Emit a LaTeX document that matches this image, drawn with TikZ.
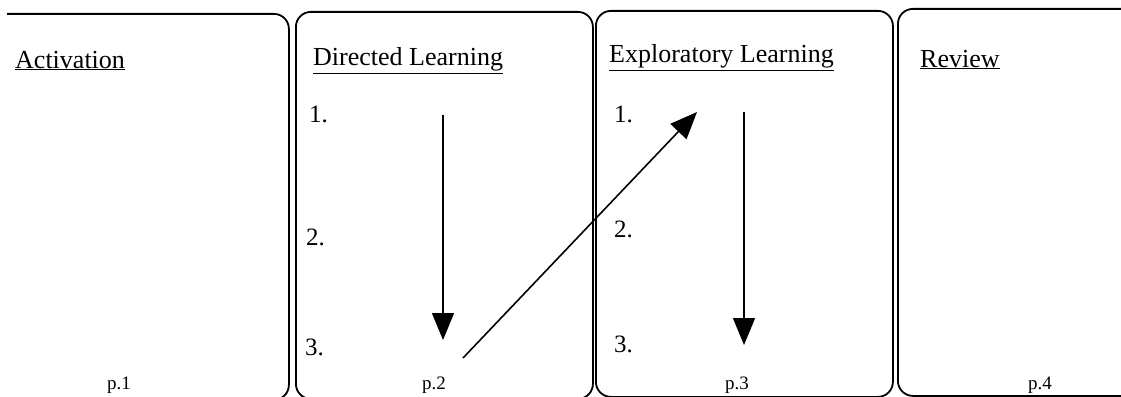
\documentclass[tikz,border=0pt]{standalone}
\usepackage{fontspec}
\setmainfont{Liberation Serif}
\usetikzlibrary{arrows.meta}
\begin{document}
\begin{tikzpicture}[x=1pt,y=-1pt,
  panel/.style={draw,line width=1.8pt,rounded corners=15pt,inner sep=0pt,anchor=north west},
  head/.style={anchor=base west,inner sep=0pt,font=\fontsize{26}{30}\selectfont},
  num/.style={anchor=base west,inner sep=0pt,font=\fontsize{25}{28}\selectfont},
  pg/.style={anchor=base,inner sep=0pt,font=\fontsize{19}{22}\selectfont},
  flow/.style={line width=1.6pt,-{Triangle[length=27pt,width=22pt]}}]
\useasboundingbox (0,0) rectangle (1121,396);
\clip (7,0) rectangle (1121,396);
\node[panel,minimum width=308pt,minimum height=386pt] (p1) at (-20,13) {};
\node[panel,minimum width=297pt,minimum height=387pt] (p2) at (295,11) {};
\node[panel,minimum width=297pt,minimum height=386pt] (p3) at (595,10) {};
\node[panel,minimum width=260pt,minimum height=387pt] (p4) at (897,8) {};
\node[head] (h1) at (15,68) {\underline{Activation}};
\node[head] (h2) at (313,66) {\underline{Directed Learning}};
\node[head] (h3) at (609,63) {\underline{Exploratory Learning}};
\node[head] (h4) at (920,67) {\underline{Review}};
\node[num] (d1) at (309,122) {1.};
\node[num] (d2) at (306,245) {2.};
\node[num] (d3) at (305,355) {3.};
\node[num] (e1) at (614,122) {1.};
\node[num] (e2) at (614,237) {2.};
\node[num] (e3) at (614,352) {3.};
\node[pg] (g1) at (119,389) {p.1};
\node[pg] (g2) at (434,389) {p.2};
\node[pg] (g3) at (737,389) {p.3};
\node[pg] (g4) at (1040,389) {p.4};
\coordinate (a1s) at (443,115);
\coordinate (a1e) at (443,340);
\coordinate (a2s) at (463,358);
\coordinate (a2e) at (697,112);
\coordinate (a3s) at (744,112);
\coordinate (a3e) at (744,345);
\draw[flow] (a1s) -- (a1e);
\draw[flow] (a2s) -- (a2e);
\draw[flow] (a3s) -- (a3e);
\end{tikzpicture}
\end{document}
